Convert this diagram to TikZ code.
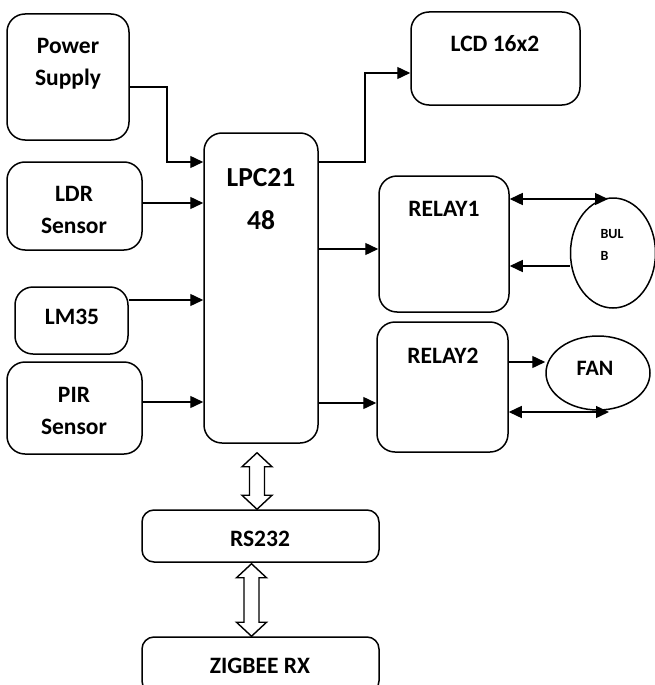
\documentclass[tikz,border=0pt]{standalone}
\usepackage{fontspec}
\setmainfont{Carlito}
\usetikzlibrary{arrows.meta,shapes.geometric,calc}
\newcommand\hollowarr[2]{\draw[hollow] let \p1=#1, \p2=#2 in
  (\x1,\y1) -- (\x1+15pt,\y1-14pt) -- (\x1+7.5pt,\y1-14pt) -- (\x1+7.5pt,\y2+14pt)
  -- (\x1+15pt,\y2+14pt) -- (\x1,\y2) -- (\x1-15pt,\y2+14pt) -- (\x1-7.5pt,\y2+14pt)
  -- (\x1-7.5pt,\y1-14pt) -- (\x1-15pt,\y1-14pt) -- cycle;}
\begin{document}
\begin{tikzpicture}[x=1pt,y=-1pt,
  box/.style={draw,line width=1.5pt,rounded corners=18pt,inner sep=0pt},
  oval/.style={draw,ellipse,line width=1.5pt,inner sep=0pt},
  lbl/.style={font=\bfseries\fontsize{23.5}{32}\selectfont,align=center,inner sep=0pt},
  arr/.style={line width=1.4pt,-{Triangle[length=13pt,width=12pt]}},
  darr/.style={line width=1.4pt,{Triangle[length=13pt,width=12pt]}-{Triangle[length=13pt,width=12pt]}},
  hollow/.style={draw,line width=1.4pt,fill=white,line join=miter}]
\useasboundingbox (0,0) rectangle (655,685);
\clip (0,0) rectangle (655,685);
% boxes
\node[box,minimum width=122pt,minimum height=126pt] (ps) at (68,77) {};
\node[box,minimum width=135pt,minimum height=88pt] (ldr) at (74.5,206) {};
\node[box,minimum width=113pt,minimum height=67pt] (lm) at (71.5,320.5) {};
\node[box,minimum width=135pt,minimum height=92pt] (pir) at (74.5,408) {};
\node[box,minimum width=114pt,minimum height=310pt] (lpc) at (261,288) {};
\node[box,minimum width=169pt,minimum height=93pt] (lcd) at (495.5,58.5) {};
\node[box,minimum width=130pt,minimum height=136pt] (r1) at (444,244) {};
\node[box,minimum width=131pt,minimum height=130pt] (r2) at (442.5,387) {};
\node[box,rounded corners=12pt,minimum width=237pt,minimum height=52pt] (rs) at (260.5,536) {};
\node[box,rounded corners=12pt,minimum width=237pt,minimum height=56pt] (zig) at (260.5,665) {};
\node[oval,minimum width=85pt,minimum height=110pt] (bulb) at (613,253) {};
\node[oval,minimum width=104pt,minimum height=74pt] (fan) at (598,373) {};
% labels
\node[lbl] (tps) at (68,64) {Power\\Supply};
\node[lbl] (tldr) at (74,210) {LDR\\Sensor};
\node[lbl] (tlm) at (72,317) {LM35};
\node[lbl] (tpir) at (74,411) {PIR\\Sensor};
\node[lbl,font=\bfseries\fontsize{27.5}{43}\selectfont] (tlpc) at (261,199) {LPC21\\48};
\node[lbl] (tlcd) at (495,44) {LCD 16x2};
\node[lbl] (tr1) at (444,209) {RELAY1};
\node[lbl] (tr2) at (443,356) {RELAY2};
\node[lbl,font=\bfseries\fontsize{14}{22}\selectfont,align=left] (tbulb) at (612,245) {BUL\\B};
\node[lbl,font=\bfseries\fontsize{22}{30}\selectfont] (tfan) at (595,368) {FAN};
\node[lbl] (trs) at (260,539) {RS232};
\node[lbl] (tzig) at (260,666) {ZIGBEE RX};
% free ends
\coordinate (bt) at (608,199);
\coordinate (ft) at (609,412);
% connectors
\draw[arr] (ps.east |- 0,87) -| (167,162) -- (lpc.west |- 0,162);
\draw[arr] (ldr.east |- 0,203) -- (lpc.west |- 0,203);
\draw[arr] (lm.east |- 0,300) -- (lpc.west |- 0,300);
\draw[arr] (pir.east |- 0,402) -- (lpc.west |- 0,402);
\draw[arr] (lpc.east |- 0,162) -| (365,73) -- (lcd.west |- 0,73);
\draw[arr] (lpc.east |- 0,249) -- (r1.west |- 0,249);
\draw[arr] (lpc.east |- 0,403) -- (r2.west |- 0,403);
\draw[darr] (r1.east |- bt) -- (bt);
\draw[arr] (bulb.west |- 0,266) -- (r1.east |- 0,266);
\draw[arr] (r2.east |- 0,362) -- (fan.west |- 0,362);
\draw[darr] (r2.east |- ft) -- (ft);
\hollowarr{([xshift=-4pt,yshift=-9pt]lpc.south)}{([xshift=-4pt]lpc.south |- rs.north)}
\hollowarr{([xshift=-9pt,yshift=-1pt]rs.south)}{([xshift=-9pt]rs.south |- zig.north)}
\end{tikzpicture}
\end{document}
